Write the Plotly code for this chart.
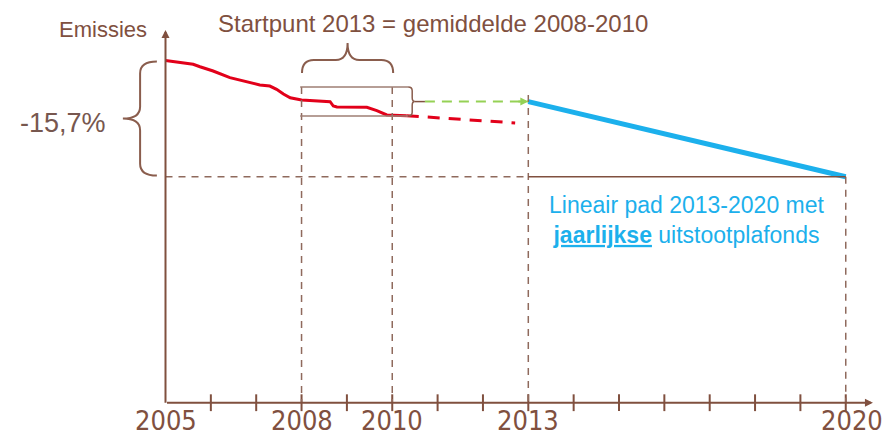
import plotly.graph_objects as go

# pixel calibration of the schematic (2005 at the y axis, 2005 level = 100)
# the page body has an 8px margin, so the figure itself starts at (8, 8)
OFFSET = 8
X0_PX, PX_PER_YEAR = 165.5 - OFFSET, 45.35
Y0_PX, PX_PER_UNIT = 60.5 - OFFSET, 7.401
W, H = 884, 428

# data
years_hist = [2005.00, 2005.32, 2005.61, 2005.76, 2006.05, 2006.42, 2006.64, 2006.86,
              2007.08, 2007.30, 2007.45, 2007.60, 2007.75, 2008.00, 2008.63, 2008.70,
              2008.78, 2009.44, 2009.66, 2009.88, 2010.32]
emis_hist = [100.0, 99.76, 99.49, 99.16, 98.58, 97.68, 97.37, 97.00, 96.69, 96.55,
             96.11, 95.47, 94.97, 94.66, 94.43, 93.85, 93.72, 93.68, 93.22, 92.64, 92.54]
years_trend = [2010.32, 2012.71]
emis_trend = [92.54, 91.56]
years_start = [2010.72, 2013]
emis_start = [94.45, 94.45]
years_cap = [2013, 2020]
emis_cap = [94.45, 84.3]
box_top, box_bottom = 96.42, 92.5
baseline = 53.76
y_top = 104.12
tick_years = list(range(2006, 2021))
label_years = [2005, 2008, 2010, 2013, 2020]

BROWN = "#80503f"
DASH_BROWN = "#8f6a5d"
RED = "#e2001a"
BLUE = "#1cb0ec"
GREEN = "#95d155"

x_range = [2005 - X0_PX / PX_PER_YEAR, 2005 + (W - X0_PX) / PX_PER_YEAR]
y_range = [100 - (H - Y0_PX) / PX_PER_UNIT, 100 + Y0_PX / PX_PER_UNIT]

fig = go.Figure()

# red historic line + dashed trend
fig.add_trace(go.Scatter(x=years_hist, y=emis_hist, mode="lines",
                         line=dict(color=RED, width=3), hoverinfo="skip"))
fig.add_trace(go.Scatter(x=years_trend, y=emis_trend, mode="lines",
                         line=dict(color=RED, width=3, dash="12px,9px"), hoverinfo="skip"))
# green start point line
fig.add_trace(go.Scatter(x=years_start, y=emis_start, mode="lines",
                         line=dict(color=GREEN, width=2, dash="10px,7px"), hoverinfo="skip"))
# blue linear cap
fig.add_trace(go.Scatter(x=years_cap, y=emis_cap, mode="lines",
                         line=dict(color=BLUE, width=5), hoverinfo="skip"))
# axis ticks
fig.add_trace(go.Scatter(x=tick_years, y=[baseline] * len(tick_years), mode="markers",
                         marker=dict(symbol="line-ns", size=12,
                                     line=dict(color=BROWN, width=2)),
                         hoverinfo="skip"))

dash = dict(color=DASH_BROWN, width=1.5, dash="7px,6px")
shapes = [
    dict(type="line", x0=2008, x1=2008, y0=box_top, y1=baseline, line=dash),
    dict(type="line", x0=2010, x1=2010, y0=box_top, y1=baseline, line=dash),
    dict(type="line", x0=2013, x1=2013, y0=95.34, y1=baseline, line=dash),
    dict(type="line", x0=2020, x1=2020, y0=emis_cap[-1], y1=baseline, line=dash),
    dict(type="line", x0=2005, x1=2013, y0=emis_cap[-1], y1=emis_cap[-1], line=dash),
    dict(type="line", x0=2013, x1=2020, y0=emis_cap[-1], y1=emis_cap[-1],
         line=dict(color=BROWN, width=1.5)),
    # averaging box
    dict(type="line", x0=2007.97, x1=2010.35, y0=box_top, y1=box_top,
         line=dict(color="#9e7e73", width=1.5)),
    dict(type="line", x0=2007.97, x1=2010.35, y0=box_bottom, y1=box_bottom,
         line=dict(color="#9e7e73", width=1.5)),
    dict(type="line", x0=2010.50, x1=years_start[0], y0=emis_start[0], y1=emis_start[0],
         line=dict(color=BROWN, width=1.5)),
]


def vbrace(xe, xs, xt, yt, yb, r):
    ym = (yt + yb) / 2
    return (f"M {xe},{yt} Q {xs},{yt} {xs},{yt - r} L {xs},{ym + r} "
            f"Q {xs},{ym} {xt},{ym} Q {xs},{ym} {xs},{ym - r} "
            f"L {xs},{yb + r} Q {xs},{yb} {xe},{yb}")


def hbrace(xl, xr, ye, ys, yt, r):
    xm = (xl + xr) / 2
    return (f"M {xl},{ye} Q {xl},{ys} {xl + r},{ys} L {xm - r},{ys} "
            f"Q {xm},{ys} {xm},{yt} Q {xm},{ys} {xm + r},{ys} "
            f"L {xr - r},{ys} Q {xr},{ys} {xr},{ye}")


brace_line = dict(color="#8a5d4d", width=2)
shapes += [
    dict(type="path", path=vbrace(2004.81, 2004.44, 2004.06, 99.85, 84.45, 1.6),
         line=brace_line),
    dict(type="path", path=vbrace(2010.35, 2010.44, 2010.50, box_top, box_bottom, 0.5),
         line=dict(color="#8a5d4d", width=1.5)),
    dict(type="path", path=hbrace(2008.01, 2010.02, 98.31, 100.07, 102.36, 0.26),
         line=brace_line),
]

annotations = [
    # axes with arrowheads
    dict(x=2020.60, y=baseline, ax=2005, ay=baseline, xref="x", yref="y",
         axref="x", ayref="y", text="", showarrow=True, arrowhead=2, arrowsize=0.8,
         arrowwidth=2, arrowcolor=BROWN),
    dict(x=2005, y=y_top, ax=2005, ay=baseline - 0.2, xref="x", yref="y",
         axref="x", ayref="y", text="", showarrow=True, arrowhead=2, arrowsize=0.8,
         arrowwidth=2, arrowcolor=BROWN),
    # green arrowhead
    dict(x=2013, y=emis_start[0], ax=2012.75, ay=emis_start[0], xref="x", yref="y",
         axref="x", ayref="y", text="", showarrow=True, arrowhead=2, arrowsize=0.8,
         arrowwidth=2, arrowcolor=GREEN),
    dict(x=2003.63, y=104.2, xref="x", yref="y", text="Emissies", showarrow=False,
         font=dict(family="Liberation Sans, Arial", size=22, color=BROWN)),
    dict(x=2002.75, y=91.62, xref="x", yref="y", text="-15,7%", showarrow=False,
         font=dict(family="Liberation Sans, Arial", size=27, color="#77574f")),
    dict(x=2010.90, y=105.0, xref="x", yref="y",
         text="Startpunt 2013 = gemiddelde 2008-2010", showarrow=False,
         font=dict(family="Liberation Sans, Arial", size=24, color=BROWN)),
    dict(x=2016.5, y=78.51, xref="x", yref="y",
         text="Lineair pad 2013-2020 met<br><u><b>jaarlijkse</b></u> uitstootplafonds",
         showarrow=False, align="center",
         font=dict(family="Liberation Sans, Arial", size=23, color=BLUE)),
]
label_y = 100 - (420 - 60.5) / PX_PER_UNIT
for yr in label_years:
    annotations.append(dict(x=yr, y=label_y, xref="x", yref="y", text=str(yr),
                            showarrow=False, xshift=6 if yr == 2020 else 0,
                            font=dict(family="DejaVu Sans Condensed, DejaVu Sans",
                                      size=27, color=BROWN)))

fig.update_layout(
    width=W, height=H,
    margin=dict(l=0, r=0, t=0, b=0),
    paper_bgcolor="white", plot_bgcolor="white",
    showlegend=False,
    xaxis=dict(range=x_range, visible=False, showgrid=False, zeroline=False),
    yaxis=dict(range=y_range, visible=False, showgrid=False, zeroline=False),
    shapes=shapes,
    annotations=annotations,
)

fig.write_html("out.html")
